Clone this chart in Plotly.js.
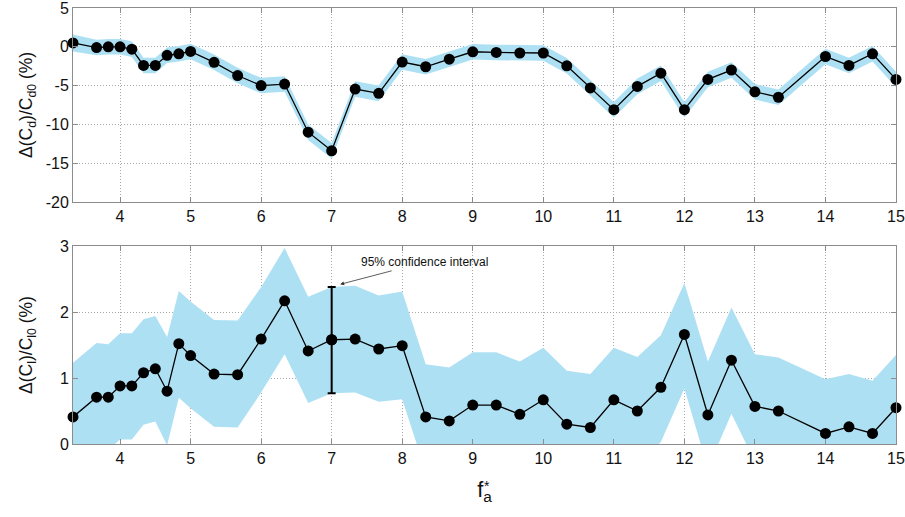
<!DOCTYPE html>
<html>
<head>
<meta charset="utf-8">
<script src="https://cdn.plot.ly/plotly-3.0.1.min.js"></script>
<style>html,body{margin:0;padding:0;background:#fff;}#chart{width:905px;height:517px;}</style>
</head>
<body>
<div id="chart"></div>
<script>
// Forcing frequency f*_a
const fa = [3.333, 3.667, 3.833, 4, 4.167, 4.333, 4.5, 4.667, 4.833, 5, 5.333, 5.667, 6, 6.333, 6.667, 7, 7.333, 7.667, 8, 8.333, 8.667, 9, 9.333, 9.667, 10, 10.333, 10.667, 11, 11.333, 11.667, 12, 12.333, 12.667, 13, 13.333, 14, 14.333, 14.667, 15];

// Drag change (%)
const dCd = [0.5, -0.1, 0, 0, -0.3, -2.4, -2.4, -1.1, -0.9, -0.6, -2.0, -3.7, -5.0, -4.8, -11.0, -13.4, -5.45, -6.0, -1.97, -2.57, -1.6, -0.64, -0.73, -0.8, -0.8, -2.45, -5.3, -8.1, -5.1, -3.4, -8.1, -4.2, -3.0, -5.8, -6.5, -1.25, -2.4, -0.9, -4.2];
// Drag 95% confidence half-width (%)
const dCdHalf = [1.1, 1.0, 1.0, 1.0, 1.0, 1.0, 1.0, 1.0, 1.0, 1.0, 1.0, 1.0, 1.0, 1.0, 1.0, 1.0, 1.0, 1.0, 1.0, 1.0, 1.0, 1.0, 1.0, 1.0, 1.0, 1.0, 1.0, 1.0, 1.0, 1.0, 1.0, 1.0, 1.0, 1.0, 1.0, 1.0, 1.0, 1.0, 1.0];

// Lift change (%)
const dCl = [0.41, 0.71, 0.71, 0.88, 0.88, 1.08, 1.14, 0.80, 1.52, 1.34, 1.06, 1.05, 1.59, 2.17, 1.41, 1.58, 1.59, 1.44, 1.49, 0.41, 0.35, 0.59, 0.59, 0.45, 0.67, 0.30, 0.25, 0.67, 0.50, 0.86, 1.66, 0.44, 1.27, 0.57, 0.50, 0.16, 0.26, 0.16, 0.55];
const dClUpper = [1.23, 1.53, 1.51, 1.68, 1.68, 1.89, 1.94, 1.62, 2.32, 2.16, 1.88, 1.87, 2.38, 2.97, 2.23, 2.38, 2.40, 2.25, 2.31, 1.21, 1.16, 1.39, 1.39, 1.25, 1.46, 1.11, 1.06, 1.46, 1.32, 1.65, 2.44, 1.25, 2.07, 1.36, 1.31, 0.98, 1.06, 0.96, 1.35];
const dClLower = [-0.41, -0.11, -0.09, 0.07, 0.07, 0.29, 0.34, -0.02, 0.70, 0.54, 0.26, 0.25, 0.78, 1.36, 0.62, 0.77, 0.78, 0.64, 0.68, -0.42, -0.46, -0.21, -0.21, -0.35, -0.12, -0.51, -0.56, -0.12, -0.32, 0.03, 0.84, -0.37, 0.46, -0.27, -0.31, -0.66, -0.54, -0.64, -0.25];

// Point carrying the explicit confidence-interval error bar
const ciIndex = 15;
const ciLabel = '95% confidence interval';

const xTicks = [4, 5, 6, 7, 8, 9, 10, 11, 12, 13, 14, 15];
const cdTicks = [-20, -15, -10, -5, 0, 5];
const clTicks = [0, 1, 2, 3];

const cdTitle = 'Δ(C<sub>d</sub>)/C<sub>d0</sub> (%)';
const clTitle = 'Δ(C<sub>l</sub>)/C<sub>l0</sub> (%)';

const bandColor = '#aee0f4';
const cdUpper = dCd.map((v, i) => v + dCdHalf[i]);
const cdLower = dCd.map((v, i) => v - dCdHalf[i]);

const traces = [
  {x: fa, y: cdLower, xaxis: 'x', yaxis: 'y', mode: 'lines', line: {width: 0, color: bandColor}, hoverinfo: 'skip', showlegend: false},
  {x: fa, y: cdUpper, xaxis: 'x', yaxis: 'y', mode: 'lines', fill: 'tonexty', fillcolor: bandColor, line: {width: 0, color: bandColor}, hoverinfo: 'skip', showlegend: false},
  {x: fa, y: dCd, xaxis: 'x', yaxis: 'y', mode: 'lines+markers', cliponaxis: false, line: {color: '#000', width: 1.3}, marker: {color: '#000', size: 11}, showlegend: false},
  {x: fa, y: dClLower, xaxis: 'x2', yaxis: 'y2', mode: 'lines', line: {width: 0, color: bandColor}, hoverinfo: 'skip', showlegend: false},
  {x: fa, y: dClUpper, xaxis: 'x2', yaxis: 'y2', mode: 'lines', fill: 'tonexty', fillcolor: bandColor, line: {width: 0, color: bandColor}, hoverinfo: 'skip', showlegend: false},
  {x: fa, y: dCl, xaxis: 'x2', yaxis: 'y2', mode: 'lines+markers', cliponaxis: false, line: {color: '#000', width: 1.3}, marker: {color: '#000', size: 11}, showlegend: false},
  {x: [fa[ciIndex]], y: [dCl[ciIndex]], xaxis: 'x2', yaxis: 'y2', mode: 'markers', marker: {color: '#000', size: 11}, showlegend: false,
   error_y: {type: 'data', symmetric: false, array: [dClUpper[ciIndex] - dCl[ciIndex]], arrayminus: [dCl[ciIndex] - dClLower[ciIndex]], color: '#000', thickness: 2, width: 4}}
];

const fontFam = '"Liberation Sans", Arial, Helvetica, sans-serif';
const axisCommon = {
  showline: true, linecolor: '#8c8c8c', linewidth: 1, mirror: 'ticks',
  ticks: 'inside', ticklen: 5, tickcolor: '#8c8c8c',
  showgrid: true, gridcolor: '#a8a8a8', griddash: '1px,2px', gridwidth: 1,
  zeroline: false, ticklabeloverflow: 'allow',
  tickfont: {family: fontFam, size: 16, color: '#111'}
};

const layout = {
  width: 905, height: 517,
  margin: {l: 73, r: 9, t: 8, b: 73},
  paper_bgcolor: '#fff', plot_bgcolor: '#fff',
  font: {family: fontFam, color: '#111'},
  showlegend: false,
  xaxis: Object.assign({}, axisCommon, {domain: [0, 1], anchor: 'y', range: [3.333, 15], tickvals: xTicks, ticktext: xTicks.map(String)}),
  yaxis: Object.assign({}, axisCommon, {domain: [0.555, 1], anchor: 'x', range: [-20, 5], tickvals: cdTicks, ticktext: cdTicks.map(String)}),
  xaxis2: Object.assign({}, axisCommon, {domain: [0, 1], anchor: 'y2', range: [3.333, 15], tickvals: xTicks, ticktext: xTicks.map(String),
    title: {text: 'f<sub>a</sub>', font: {family: fontFam, size: 22, color: '#111'}, standoff: 15}}),
  yaxis2: Object.assign({}, axisCommon, {domain: [0, 0.454], anchor: 'x2', range: [0, 3], tickvals: clTicks, ticktext: clTicks.map(String)}),
  annotations: [
    {xref: 'paper', yref: 'paper', x: -0.056, y: 0.7775, xanchor: 'center', yanchor: 'middle', textangle: -90, text: cdTitle, showarrow: false,
     font: {family: fontFam, size: 17.5, color: '#111'}},
    {xref: 'paper', yref: 'paper', x: -0.056, y: 0.227, xanchor: 'center', yanchor: 'middle', textangle: -90, text: clTitle, showarrow: false,
     font: {family: fontFam, size: 17.5, color: '#111'}},
    {xref: 'x2', yref: 'y2', x: 7.12, y: 2.42, text: ciLabel, showarrow: true, arrowhead: 2, arrowsize: 1, arrowwidth: 0.8, arrowcolor: '#333',
     ax: 84, ay: -22, font: {family: fontFam, size: 12, color: '#111'}},
    {xref: 'paper', yref: 'paper', x: 0.5035, y: -0.119, text: '*', showarrow: false, font: {family: fontFam, size: 14, color: '#111'}}
  ]
};

Plotly.newPlot('chart', traces, layout, {displayModeBar: false, staticPlot: true});
</script>
</body>
</html>
